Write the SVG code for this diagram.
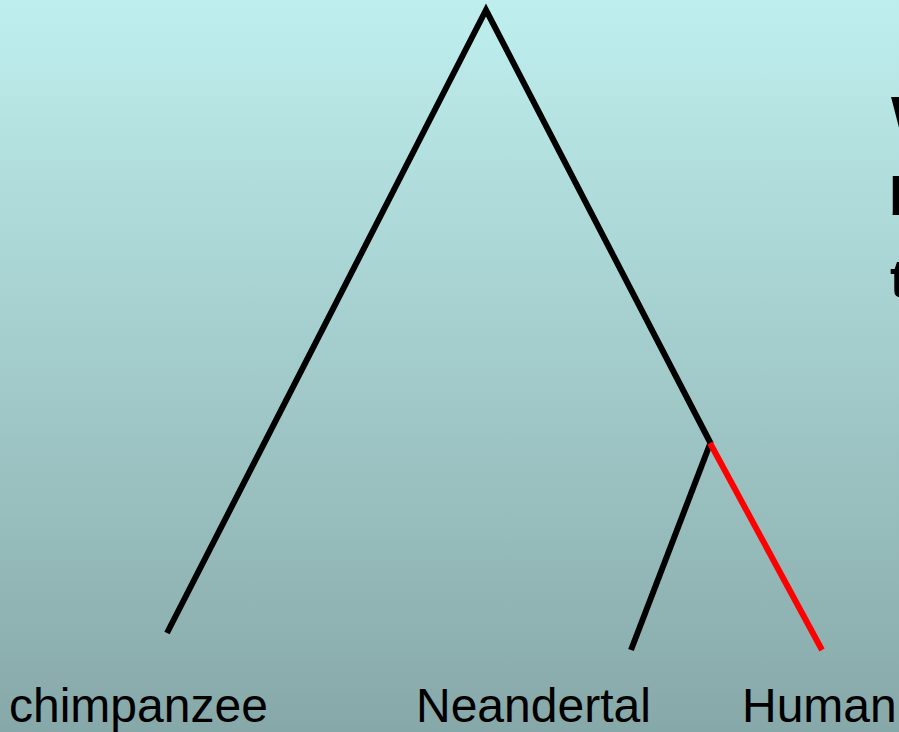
<svg xmlns="http://www.w3.org/2000/svg" width="899" height="732" viewBox="0 0 899 732">
<defs>
<linearGradient id="bg" x1="0" y1="0" x2="0" y2="1">
<stop offset="0" stop-color="#BEEFEE"/>
<stop offset="1" stop-color="#87A8A8"/>
</linearGradient>
</defs>
<style>
.lbl{font-family:"Liberation Sans",Arial,sans-serif;font-size:48px;fill:#000}
.side{font-family:"Liberation Sans",Arial,sans-serif;font-size:54px;font-weight:bold;fill:#000}
.br{stroke:#000;stroke-width:6;fill:none;stroke-linecap:butt}
.red{stroke:#FF0000}
</style>
<rect width="899" height="732" fill="url(#bg)"/>
<g id="connectors">
<polyline class="br" points="167,633 486,10 711,444"/>
<line class="br" x1="710" y1="444" x2="631" y2="650"/>
<line class="br red" x1="710" y1="443" x2="822" y2="650"/>
</g>
<g id="chimpanzee"><text class="lbl" x="9" y="722">chimpanzee</text></g>
<g id="neandertal"><text class="lbl" x="416" y="722">Neandertal</text></g>
<g id="human"><text class="lbl" x="742" y="722">Human</text></g>
<g id="side-text">
<text class="side" x="891" y="134">W</text>
<text class="side" x="889" y="215">b</text>
<text class="side" x="890" y="297">t</text>
</g>
</svg>
